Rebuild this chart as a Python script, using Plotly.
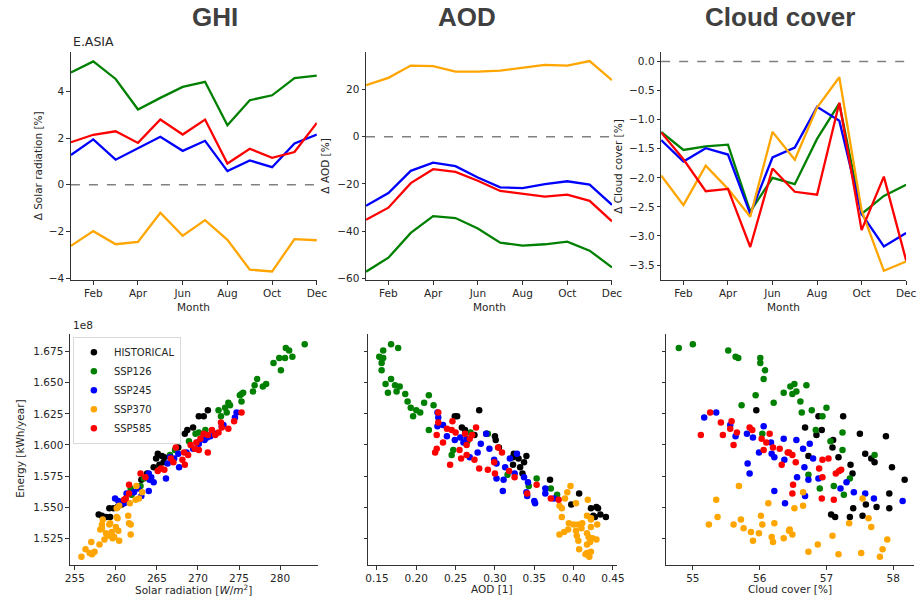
import plotly.graph_objects as go

# ---------------- monthly change data (top row) ----------------
months = list(range(1, 13))
month_tickvals = [2, 4, 6, 8, 10, 12]
month_ticktext = ["Feb", "Apr", "Jun", "Aug", "Oct", "Dec"]

ghi_ssp126 = [4.81, 5.28, 4.53, 3.22, 3.72, 4.19, 4.41, 2.55, 3.62, 3.83, 4.57, 4.67]
ghi_ssp245 = [1.27, 1.94, 1.07, 1.55, 2.05, 1.45, 1.88, 0.58, 1.04, 0.75, 1.77, 2.15]
ghi_ssp370 = [-2.62, -1.99, -2.55, -2.45, -1.20, -2.19, -1.52, -2.36, -3.64, -3.72, -2.33, -2.38]
ghi_ssp585 = [1.82, 2.14, 2.29, 1.79, 2.79, 2.15, 2.79, 0.91, 1.54, 1.15, 1.40, 2.65]

aod_ssp126 = [-57.2, -51.3, -40.8, -33.7, -34.5, -38.9, -44.9, -46.2, -45.6, -44.5, -48.3, -55.4]
aod_ssp245 = [-29.3, -23.9, -14.5, -11.0, -12.5, -17.3, -21.5, -21.8, -20.1, -18.9, -20.3, -28.9]
aod_ssp370 = [21.8, 24.9, 30.1, 29.9, 27.5, 27.5, 28.0, 29.3, 30.4, 30.1, 32.0, 23.9]
aod_ssp585 = [-35.2, -30.1, -19.7, -13.8, -14.9, -18.7, -23.0, -24.2, -25.4, -24.6, -27.2, -35.9]

cld_ssp126 = [-1.21, -1.52, -1.46, -1.43, -2.58, -2.00, -2.11, -1.33, -0.72, -2.62, -2.31, -2.12]
cld_ssp245 = [-1.35, -1.72, -1.49, -1.60, -2.62, -1.65, -1.48, -0.78, -1.02, -2.62, -3.18, -2.95]
cld_ssp370 = [-1.96, -2.47, -1.79, -2.19, -2.67, -1.21, -1.69, -0.79, -0.27, -2.56, -3.60, -3.44]
cld_ssp585 = [-1.22, -1.68, -2.23, -2.19, -3.19, -1.84, -2.24, -2.29, -0.71, -2.90, -1.98, -3.42]

# ---------------- yearly scatter data (bottom row), energy in 1e8 kWh/year ----------------
hist_energy = [1.628, 1.623, 1.623, 1.614, 1.612, 1.609, 1.608, 1.607, 1.604, 1.598, 1.593, 1.591, 1.590, 1.589,
               1.586, 1.584, 1.582, 1.577, 1.572, 1.561, 1.552, 1.550, 1.549, 1.549, 1.544, 1.542, 1.542, 1.543]
hist_ghi = [271.2, 270.1, 270.7, 269.4, 268.7, 268.4, 267.4, 267.5, 266.3, 267.6, 265.1, 265.6, 265.9, 264.9,
            265.8, 265.3, 264.6, 263.8, 263.1, 261.9, 260.7, 260.2, 259.7, 259.2, 257.9, 258.8, 259.3, 258.3]
hist_aod = [0.280, 0.249, 0.252, 0.258, 0.262, 0.289, 0.274, 0.300, 0.301, 0.305, 0.324, 0.340, 0.323, 0.330,
            0.337, 0.323, 0.332, 0.335, 0.370, 0.407, 0.397, 0.429, 0.422, 0.431, 0.434, 0.441, 0.427, 0.425]
hist_cloud = [55.95, 57.25, 56.88, 56.68, 56.93, 57.50, 56.85, 57.89, 57.10, 57.09, 57.58, 56.73, 57.18, 57.67,
              57.72, 57.36, 57.98, 57.39, 58.17, 57.94, 57.59, 57.75, 57.40, 57.94, 57.07, 57.13, 57.35, 57.54]

ssp126_energy = [1.681, 1.678, 1.676, 1.671, 1.670, 1.670, 1.666, 1.660, 1.653, 1.649, 1.648, 1.647, 1.643, 1.642,
                 1.641, 1.640, 1.635, 1.634, 1.632, 1.630, 1.628, 1.626, 1.623, 1.612, 1.610, 1.609, 1.603, 1.596,
                 1.592, 1.576, 1.573, 1.567, 1.565, 1.560]
ssp126_ghi = [283.0, 280.7, 281.1, 281.5, 280.6, 279.9, 279.2, 280.1, 277.2, 278.3, 276.9, 277.9, 276.7, 275.5,
              275.3, 275.1, 275.3, 273.7, 273.9, 273.3, 272.5, 273.5, 272.8, 270.9, 270.1, 269.7, 268.9, 267.2,
              266.6, 264.0, 263.4, 263.0, 261.8, 261.9]
ssp126_aod = [0.168, 0.177, 0.158, 0.153, 0.158, 0.156, 0.156, 0.156, 0.168, 0.161, 0.173, 0.179, 0.175, 0.164,
              0.186, 0.216, 0.189, 0.210, 0.222, 0.193, 0.200, 0.205, 0.196, 0.216, 0.269, 0.291, 0.265, 0.247,
              0.245, 0.316, 0.353, 0.343, 0.371, 0.379]
ssp126_cloud = [55.00, 54.79, 55.53, 55.64, 55.68, 56.01, 56.01, 56.08, 56.06, 56.52, 56.70, 56.46, 56.55, 56.36,
                56.49, 55.94, 56.61, 56.21, 55.73, 57.00, 56.78, 56.63, 56.94, 56.84, 57.24, 56.04, 57.06, 57.24,
                57.72, 56.73, 57.35, 57.11, 56.90, 57.26]

ssp245_energy = [1.626, 1.622, 1.616, 1.615, 1.609, 1.607, 1.606, 1.605, 1.604, 1.602, 1.601, 1.597, 1.594, 1.593,
                 1.590, 1.589, 1.588, 1.585, 1.582, 1.577, 1.574, 1.573, 1.572, 1.570, 1.565, 1.563, 1.562, 1.561,
                 1.559, 1.557, 1.555, 1.553]
ssp245_ghi = [274.7, 274.5, 273.1, 272.9, 272.1, 271.5, 271.1, 270.4, 270.8, 269.9, 270.1, 269.4, 268.6, 267.6,
              266.6, 267.1, 266.9, 266.3, 267.7, 264.0, 264.3, 266.1, 264.1, 264.6, 262.7, 264.0, 262.2, 261.3,
              263.1, 259.9, 260.3, 261.0]
ssp245_aod = [0.227, 0.228, 0.234, 0.227, 0.289, 0.239, 0.256, 0.264, 0.249, 0.260, 0.282, 0.293, 0.278, 0.328,
              0.268, 0.319, 0.299, 0.302, 0.313, 0.325, 0.337, 0.302, 0.311, 0.342, 0.364, 0.310, 0.340, 0.364,
              0.341, 0.375, 0.350, 0.351]
ssp245_cloud = [55.35, 55.17, 55.56, 56.06, 55.81, 55.64, 55.90, 56.36, 56.55, 56.17, 56.75, 56.65, 55.99, 56.18,
                56.22, 56.80, 56.37, 55.82, 56.67, 55.85, 56.56, 56.88, 56.73, 57.30, 57.21, 56.22, 57.41, 57.58,
                56.68, 57.71, 58.14, 56.38]

ssp370_energy = [1.567, 1.562, 1.557, 1.556, 1.553, 1.551, 1.549, 1.543, 1.542, 1.541, 1.540, 1.537, 1.537, 1.536,
                 1.536, 1.536, 1.534, 1.533, 1.532, 1.531, 1.530, 1.529, 1.528, 1.527, 1.526, 1.525, 1.524, 1.523,
                 1.522, 1.520, 1.516, 1.514, 1.513, 1.512, 1.510]
ssp370_ghi = [262.5, 263.2, 262.8, 262.4, 261.7, 260.4, 260.1, 261.5, 260.1, 260.2, 258.4, 261.6, 259.3, 258.3,
              261.8, 259.2, 260.0, 258.3, 258.1, 260.3, 259.5, 258.8, 261.8, 259.0, 259.8, 259.6, 258.6, 260.4,
              257.0, 258.0, 256.3, 257.4, 256.8, 257.1, 255.8]
ssp370_aod = [0.396, 0.392, 0.389, 0.418, 0.403, 0.382, 0.385, 0.417, 0.385, 0.422, 0.422, 0.394, 0.411, 0.400,
              0.406, 0.430, 0.422, 0.410, 0.393, 0.403, 0.388, 0.417, 0.382, 0.404, 0.419, 0.424, 0.429, 0.406,
              0.421, 0.417, 0.407, 0.422, 0.417, 0.415, 0.420]
ssp370_cloud = [55.69, 56.65, 57.54, 55.35, 56.13, 56.65, 56.52, 56.02, 55.37, 57.63, 55.72, 57.34, 56.22, 55.24,
                56.04, 55.61, 57.67, 55.76, 56.45, 56.44, 55.87, 55.99, 56.49, 57.09, 56.18, 56.36, 57.91, 55.90,
                56.20, 56.87, 57.84, 56.73, 57.52, 57.18, 57.80]

ssp585_energy = [1.626, 1.619, 1.618, 1.614, 1.613, 1.612, 1.610, 1.609, 1.608, 1.608, 1.605, 1.602, 1.600, 1.598,
                 1.597, 1.596, 1.594, 1.594, 1.592, 1.589, 1.588, 1.586, 1.584, 1.581, 1.580, 1.579, 1.577, 1.574,
                 1.568, 1.561, 1.557, 1.556]
ssp585_ghi = [275.3, 274.4, 272.8, 272.9, 273.7, 271.7, 272.5, 270.7, 271.2, 272.1, 270.3, 269.8, 269.1, 267.3,
              269.6, 270.1, 271.2, 268.3, 268.8, 266.7, 268.1, 267.0, 268.4, 265.5, 265.9, 265.1, 263.0, 263.6,
              261.6, 261.6, 261.2, 261.0]
ssp585_aod = [0.228, 0.246, 0.228, 0.276, 0.239, 0.245, 0.250, 0.262, 0.271, 0.226, 0.268, 0.234, 0.264, 0.304,
              0.226, 0.255, 0.309, 0.224, 0.264, 0.257, 0.274, 0.299, 0.243, 0.280, 0.291, 0.318, 0.300, 0.325,
              0.353, 0.341, 0.371, 0.381]
ssp585_cloud = [55.26, 55.58, 55.42, 55.85, 55.56, 55.89, 55.66, 56.15, 55.12, 55.45, 56.03, 56.10, 55.61, 56.20,
                56.30, 56.06, 56.42, 56.44, 56.49, 57.03, 56.94, 56.54, 56.33, 56.89, 57.22, 57.19, 57.14, 56.94,
                56.50, 56.49, 56.93, 57.11]

scenario_names = ["HISTORICAL", "SSP126", "SSP245", "SSP370", "SSP585"]
scenario_colors = ["black", "green", "blue", "orange", "red"]

# ---------------- figure ----------------
W, H = 924, 610
FONT = "DejaVu Sans"
TXT = "#262626"
AX = "#333333"


def px_x(a, b):
    return [a / W, b / W]


def px_y(top, bottom):
    return [1 - bottom / H, 1 - top / H]


fig = go.Figure()

line_sets = [
    ("x", "y", [ghi_ssp126, ghi_ssp245, ghi_ssp370, ghi_ssp585]),
    ("x2", "y2", [aod_ssp126, aod_ssp245, aod_ssp370, aod_ssp585]),
    ("x3", "y3", [cld_ssp126, cld_ssp245, cld_ssp370, cld_ssp585]),
]
for xa, ya, series in line_sets:
    fig.add_shape(type="line", xref=xa + " domain", yref=ya, x0=0, x1=1, y0=0, y1=0,
                  line=dict(color="#808080", width=1.5, dash="dash"), layer="below")
    for vals, col in zip(series, scenario_colors[1:]):
        fig.add_trace(go.Scatter(x=months, y=vals, mode="lines", xaxis=xa, yaxis=ya,
                                 line=dict(color=col, width=2.3), showlegend=False, hoverinfo="skip"))

energies = [hist_energy, ssp126_energy, ssp245_energy, ssp370_energy, ssp585_energy]
ghis = [hist_ghi, ssp126_ghi, ssp245_ghi, ssp370_ghi, ssp585_ghi]
aods = [hist_aod, ssp126_aod, ssp245_aod, ssp370_aod, ssp585_aod]
clouds = [hist_cloud, ssp126_cloud, ssp245_cloud, ssp370_cloud, ssp585_cloud]

for i, name in enumerate(scenario_names):
    col = scenario_colors[i]
    for xa, ya, xs, leg in [("x4", "y4", ghis[i], True), ("x5", "y5", aods[i], False), ("x6", "y6", clouds[i], False)]:
        fig.add_trace(go.Scatter(x=xs, y=energies[i], mode="markers", xaxis=xa, yaxis=ya, name=name,
                                 marker=dict(color=col, size=6.5, line=dict(width=0)),
                                 showlegend=leg, legendgroup=name))

base_ax = dict(showline=True, linecolor=AX, linewidth=1, ticks="outside", ticklen=3.5, tickwidth=1,
               tickcolor=AX, showgrid=False, zeroline=False, mirror=False,
               tickfont=dict(family=FONT, size=10.5, color=TXT))

top_y = px_y(52, 282)
bot_y = px_y(336, 569)

fig.update_layout(
    width=W, height=H, margin=dict(l=0, r=0, t=0, b=0),
    paper_bgcolor="white", plot_bgcolor="white",
    font=dict(family=FONT, size=10.5, color=TXT),
    xaxis=dict(base_ax, domain=px_x(67, 317), range=[1, 12], tickvals=month_tickvals, ticktext=month_ticktext, anchor="y"),
    yaxis=dict(base_ax, domain=top_y, range=[-4.09, 5.70], tickvals=[-4, -2, 0, 2, 4], anchor="x"),
    xaxis2=dict(base_ax, domain=px_x(367, 617), range=[1, 12], tickvals=month_tickvals, ticktext=month_ticktext, anchor="y2"),
    yaxis2=dict(base_ax, domain=top_y, range=[-60.8, 36], tickvals=[-60, -40, -20, 0, 20], anchor="x2"),
    xaxis3=dict(base_ax, domain=px_x(667, 916), range=[1, 12], tickvals=month_tickvals, ticktext=month_ticktext, anchor="y3"),
    yaxis3=dict(base_ax, domain=top_y, range=[-3.76, 0.17], tickvals=[0, -0.5, -1, -1.5, -2, -2.5, -3, -3.5],
                tickformat=".1f", anchor="x3"),
    xaxis4=dict(base_ax, domain=px_x(66, 318), range=[254.4, 284.6], tickvals=[255, 260, 265, 270, 275, 280], anchor="y4"),
    yaxis4=dict(base_ax, domain=bot_y, range=[1.5032, 1.6894], tickvals=[1.525, 1.55, 1.575, 1.6, 1.625, 1.65, 1.675],
                tickformat=".3f", anchor="x4"),
    xaxis5=dict(base_ax, domain=px_x(369, 622), range=[0.1387, 0.455], tickvals=[0.15, 0.2, 0.25, 0.3, 0.35, 0.4, 0.45],
                tickformat=".2f", anchor="y5"),
    yaxis5=dict(base_ax, domain=bot_y, range=[1.5032, 1.6894], tickvals=[1.525, 1.55, 1.575, 1.6, 1.625, 1.65, 1.675],
                showticklabels=False, anchor="x5"),
    xaxis6=dict(base_ax, domain=[672 / W, 1.0], range=[54.60, 58.31], tickvals=[55, 56, 57, 58], anchor="y6"),
    yaxis6=dict(base_ax, domain=bot_y, range=[1.5032, 1.6894], tickvals=[1.525, 1.55, 1.575, 1.6, 1.625, 1.65, 1.675],
                showticklabels=False, anchor="x6"),
    legend=dict(x=69 / W, y=1 - 339 / H, xanchor="left", yanchor="top", bgcolor="white",
                bordercolor="#d9d9d9", borderwidth=1, font=dict(family=FONT, size=10, color=TXT),
                itemsizing="trace", itemwidth=30, tracegroupgap=0),
    showlegend=True,
)


def ann(text, x, y, size=10.5, angle=0, xanchor="center", bold=False, color=TXT, family=FONT):
    fig.add_annotation(text=("<b>%s</b>" % text) if bold else text, x=x / W, y=1 - y / H, xref="paper", yref="paper",
                       showarrow=False, textangle=angle, xanchor=xanchor, yanchor="middle",
                       font=dict(family=family, size=size, color=color))


# suptitles
ann("GHI", 213, 17, size=26, bold=True, color="#404040", family="Liberation Sans")
ann("AOD", 470, 17, size=26, bold=True, color="#404040", family="Liberation Sans")
ann("Cloud cover", 788, 17, size=26, bold=True, color="#404040", family="Liberation Sans")
ann("E.ASIA", 67, 42, size=12.5, xanchor="left")

# axis titles
ann("Month", 192, 309)
ann("Month", 492, 309)
ann("Month", 791, 309)
ann("Δ Solar radiation [%]", 33, 167, angle=-90)
ann("Δ AOD [%]", 325, 167, angle=-90)
ann("Δ Cloud cover [%]", 623, 167, angle=-90)
ann("Solar radiation [<i>W</i>/<i>m</i><sup>2</sup>]", 192, 593)
ann("AOD [1]", 495, 593)
ann("Cloud cover [%]", 798, 593)
ann("Energy [kWh/year]", 15, 452, angle=-90)
ann("1e8", 67, 327, xanchor="left")

fig.write_html("out.html")
